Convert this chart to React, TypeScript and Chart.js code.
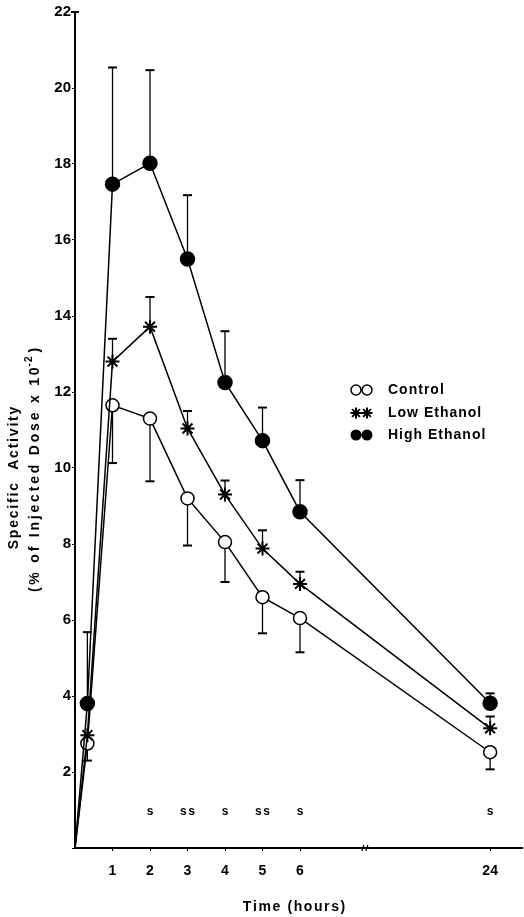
import React, { useEffect, useRef } from 'react';
import { Chart, registerables } from 'chart.js';

Chart.register(...registerables);

// ---- data ----
const hours = [0, 0.33, 1, 2, 3, 4, 5, 6, 24];
const control = [0, 2.75, 11.65, 11.3, 9.2, 8.05, 6.6, 6.05, 2.52];
const controlErr = [0, 0.45, 1.52, 1.65, 1.24, 1.05, 0.95, 0.9, 0.45];
const lowEthanol = [0, 2.97, 12.8, 13.72, 11.04, 9.3, 7.88, 6.95, 3.15];
const lowEthanolErr = [0, 0, 0.6, 0.78, 0.46, 0.37, 0.48, 0.32, 0.31];
const highEthanol = [0, 3.8, 17.47, 18.02, 15.5, 12.25, 10.72, 8.85, 3.81];
const highEthanolErr = [0, 1.88, 3.07, 2.45, 1.68, 1.35, 0.87, 0.83, 0.26];

const xTickHours = [1, 2, 3, 4, 5, 6, 24];
const sigHours = [2, 3, 4, 5, 6, 24];
const sigMarks = ['s', 'ss', 's', 'ss', 's', 's'];
const legendLabels = ['Control', 'Low Ethanol', 'High Ethanol'];

// axis break between 6 h and 24 h
const BREAK_AT = 6;
const AFTER_BREAK_SCALE = 5.07 / 18;
const BREAK_MARK_POS = 7.73;
const axisPos = (h: number) => (h <= BREAK_AT ? h : BREAK_AT + (h - BREAK_AT) * AFTER_BREAK_SCALE);

const FONT = '"Liberation Sans", Arial, sans-serif';

function drawSpaced(ctx: CanvasRenderingContext2D, text: string, x: number, y: number, spacing: number) {
  let cx = x;
  for (const ch of text) {
    ctx.fillText(ch, cx, y);
    cx += ctx.measureText(ch).width + spacing;
  }
  return cx - x - spacing;
}
function spacedWidth(ctx: CanvasRenderingContext2D, text: string, spacing: number) {
  let w = 0;
  for (const ch of text) w += ctx.measureText(ch).width + spacing;
  return w - spacing;
}

function drawMarker(ctx: CanvasRenderingContext2D, kind: string, x: number, y: number, r: number) {
  ctx.save();
  ctx.strokeStyle = '#000';
  ctx.fillStyle = '#000';
  if (kind === 'open') {
    ctx.lineWidth = 1.5;
    ctx.fillStyle = '#fff';
    ctx.beginPath();
    ctx.arc(x, y, r, 0, Math.PI * 2);
    ctx.fill();
    ctx.stroke();
  } else if (kind === 'filled') {
    ctx.beginPath();
    ctx.arc(x, y, r, 0, Math.PI * 2);
    ctx.fill();
  } else {
    ctx.lineWidth = 2;
    ctx.beginPath();
    for (let k = 0; k < 4; k++) {
      const a = (k * Math.PI) / 4;
      ctx.moveTo(x - Math.cos(a) * r, y - Math.sin(a) * r);
      ctx.lineTo(x + Math.cos(a) * r, y + Math.sin(a) * r);
    }
    ctx.stroke();
  }
  ctx.restore();
}

const errorBarsPlugin = {
  id: 'errorBars',
  beforeDatasetsDraw(chart: any) {
    const { ctx, scales } = chart;
    const xs = scales.x;
    const ys = scales.y;
    ctx.save();
    ctx.strokeStyle = '#000';
    chart.data.datasets.forEach((ds: any) => {
      ds.data.forEach((p: any, i: number) => {
        const e = ds.errors[i];
        if (!e) return;
        const px = xs.getPixelForValue(p.x);
        const y0 = ys.getPixelForValue(p.y);
        const y1 = ys.getPixelForValue(p.y + ds.errDir * e);
        ctx.lineWidth = 1.3;
        ctx.beginPath();
        ctx.moveTo(px, y0);
        ctx.lineTo(px, y1);
        ctx.stroke();
        ctx.lineWidth = 2;
        ctx.beginPath();
        ctx.moveTo(px - 4.5, y1);
        ctx.lineTo(px + 4.5, y1);
        ctx.stroke();
      });
    });
    ctx.restore();
  },
};

const annotationsPlugin = {
  id: 'annotations',
  afterDraw(chart: any) {
    const { ctx, scales, chartArea } = chart;
    const xs = scales.x;
    const ys = scales.y;
    ctx.save();
    ctx.fillStyle = '#000';
    ctx.strokeStyle = '#000';

    // cap at top of y axis
    ctx.lineWidth = 2;
    ctx.beginPath();
    ctx.moveTo(chartArea.left - 4, chartArea.top);
    ctx.lineTo(chartArea.left + 4, chartArea.top);
    ctx.stroke();

    // axis break mark
    const bx = xs.getPixelForValue(BREAK_MARK_POS);
    const by = chartArea.bottom;
    ctx.lineWidth = 1.2;
    ctx.beginPath();
    ctx.moveTo(bx - 3, by + 3);
    ctx.lineTo(bx - 1, by - 3);
    ctx.moveTo(bx + 1, by + 3);
    ctx.lineTo(bx + 3, by - 3);
    ctx.stroke();

    // significance marks
    ctx.font = `bold 12px ${FONT}`;
    ctx.textAlign = 'left';
    ctx.textBaseline = 'middle';
    sigHours.forEach((h, i) => {
      const w = spacedWidth(ctx, sigMarks[i], 1.5);
      drawSpaced(ctx, sigMarks[i], xs.getPixelForValue(axisPos(h)) - w / 2, ys.getPixelForValue(0.95), 1.5);
    });

    // x title
    ctx.font = `bold 14px ${FONT}`;
    ctx.textBaseline = 'middle';
    const xt = 'Time (hours)';
    const xtw = spacedWidth(ctx, xt, 1.6);
    drawSpaced(ctx, xt, 294 - xtw / 2, 907, 1.6);

    // y title (rotated, two lines)
    ctx.save();
    ctx.rotate(-Math.PI / 2);
    ctx.font = `bold 14px ${FONT}`;
    const l1 = 'Specific  Activity';
    const l1w = spacedWidth(ctx, l1, 1.8);
    drawSpaced(ctx, l1, -478 - l1w / 2, 14, 1.8);
    const cy2 = 470;
    const sp2 = 2.8;
    const partA = '(% of Injected Dose x 10';
    const partSup = '-2';
    const partB = ')';
    ctx.font = `bold 14px ${FONT}`;
    const wa = spacedWidth(ctx, partA, sp2);
    const wb = spacedWidth(ctx, partB, sp2);
    ctx.font = `bold 10px ${FONT}`;
    const ws = spacedWidth(ctx, partSup, 1);
    const total = wa + ws + wb + 5;
    let sx = -cy2 - total / 2;
    ctx.font = `bold 14px ${FONT}`;
    drawSpaced(ctx, partA, sx, 35, sp2);
    sx += wa + 1;
    ctx.font = `bold 10px ${FONT}`;
    drawSpaced(ctx, partSup, sx, 29, 1);
    sx += ws + 4;
    ctx.font = `bold 14px ${FONT}`;
    drawSpaced(ctx, partB, sx, 35, sp2);
    ctx.restore();

    // legend
    const kinds = ['open', 'star', 'filled'];
    const rowsY = [390, 413, 435];
    ctx.font = `bold 14px ${FONT}`;
    ctx.textBaseline = 'middle';
    kinds.forEach((k, i) => {
      const yy = rowsY[i];
      ctx.lineWidth = 1.5;
      ctx.beginPath();
      ctx.moveTo(356, yy);
      ctx.lineTo(367, yy);
      ctx.stroke();
      const r = k === 'open' ? 5 : 5.5;
      drawMarker(ctx, k, 356, yy, r);
      drawMarker(ctx, k, 367, yy, r);
      ctx.fillStyle = '#000';
      drawSpaced(ctx, legendLabels[i], 388, yy, 1.0);
    });

    ctx.restore();
  },
};

function makeDataset(label: string, values: number[], errs: number[], errDir: number, style: string) {
  const pointRadius = (c: any) => (c.dataIndex === 0 ? 0 : style === 'open' ? 6.5 : 7);
  return {
    label,
    data: hours.map((h, i) => ({ x: axisPos(h), y: values[i] })),
    errors: errs,
    errDir,
    borderColor: '#000',
    borderWidth: 1.5,
    pointStyle: style === 'star' ? 'star' : 'circle',
    pointRadius,
    pointBackgroundColor: style === 'open' ? '#fff' : '#000',
    pointBorderColor: '#000',
    pointBorderWidth: style === 'star' ? 2 : 1.5,
    tension: 0,
    fill: false,
  } as any;
}

export default function App() {
  const ref = useRef<HTMLCanvasElement | null>(null);

  useEffect(() => {
    if (!ref.current) return;
    const chart = new Chart(ref.current, {
      type: 'line',
      data: {
        datasets: [
          makeDataset('High Ethanol', highEthanol, highEthanolErr, 1, 'filled'),
          makeDataset('Low Ethanol', lowEthanol, lowEthanolErr, 1, 'star'),
          makeDataset('Control', control, controlErr, -1, 'open'),
        ],
      },
      options: {
        responsive: false,
        animation: false,
        devicePixelRatio: 1,
        layout: { autoPadding: false, padding: { top: 12, right: 2, left: 0, bottom: 0 } },
        plugins: { legend: { display: false }, tooltip: { enabled: false } },
        scales: {
          x: {
            type: 'linear',
            min: 0,
            max: 11.92,
            afterBuildTicks: (scale: any) => {
              scale.ticks = xTickHours.map((h) => ({ value: axisPos(h) }));
            },
            afterFit: (scale: any) => {
              scale.height = 69;
              scale.paddingLeft = 0;
              scale.paddingRight = 0;
            },
            ticks: {
              autoSkip: false,
              maxRotation: 0,
              padding: 12,
              color: '#000',
              font: { family: FONT, weight: 'bold', size: 14 },
              callback: (_v: any, i: number) => String(xTickHours[i]),
            },
            grid: { display: true, drawOnChartArea: false, drawTicks: true, tickLength: 3, color: '#000' },
            border: { display: true, color: '#000', width: 2 },
          },
          y: {
            type: 'linear',
            min: 0,
            max: 22,
            afterFit: (scale: any) => {
              scale.width = 75;
            },
            ticks: {
              stepSize: 2,
              padding: 1,
              color: '#000',
              font: { family: FONT, weight: 'bold', size: 15 },
              callback: (v: any) => (v === 0 ? '' : String(v)),
            },
            grid: { display: true, drawOnChartArea: false, drawTicks: true, tickLength: 3, color: '#000' },
            border: { display: true, color: '#000', width: 2 },
          },
        },
      } as any,
      plugins: [errorBarsPlugin, annotationsPlugin],
    });
    return () => chart.destroy();
  }, []);

  return (
    <div style={{ position: 'fixed', left: 0, top: 0, width: 524, height: 917, background: '#fff' }}>
      <canvas ref={ref} width={524} height={917} style={{ width: 524, height: 917, display: 'block' }} />
    </div>
  );
}
